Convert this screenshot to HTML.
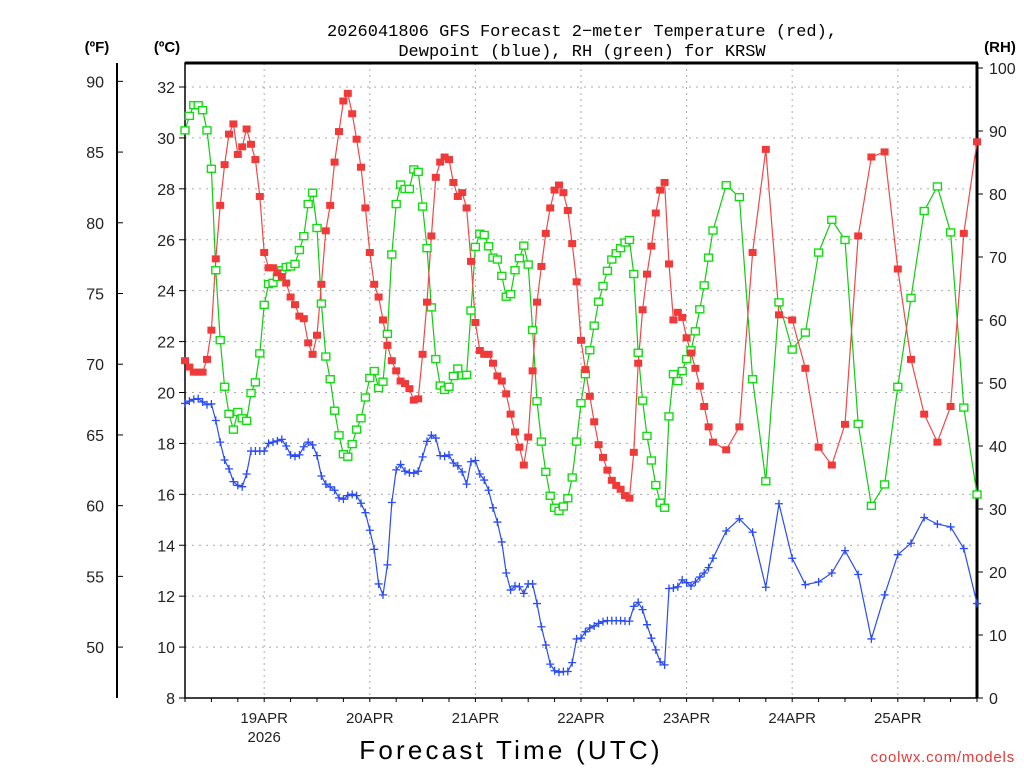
<!DOCTYPE html>
<html><head><meta charset="utf-8"><title>GFS Forecast KRSW</title>
<style>html,body{margin:0;padding:0;background:#fff}svg{display:block;font-family:"Liberation Sans",sans-serif}</style></head>
<body>
<svg id="chart" width="1024" height="768" viewBox="0 0 1024 768" xmlns="http://www.w3.org/2000/svg">
<g id="grid"></g>
<g id="axes"></g>
<g id="series"></g>
<text x="582" y="36" font-size="17" font-family="Liberation Mono, monospace" text-anchor="middle">2026041806 GFS Forecast 2−meter Temperature (red),</text>
<text x="582" y="56" font-size="17" font-family="Liberation Mono, monospace" text-anchor="middle">Dewpoint (blue), RH (green) for KRSW</text>
<text x="97" y="52" font-size="15" font-weight="bold" text-anchor="middle">(ºF)</text>
<text x="167" y="52" font-size="15" font-weight="bold" text-anchor="middle">(ºC)</text>
<text x="1000" y="52" font-size="15" font-weight="bold" text-anchor="middle">(RH)</text>
<text x="511" y="759" font-size="26" text-anchor="middle" letter-spacing="3.2">Forecast Time (UTC)</text>
<text x="1015" y="762" font-size="15" fill="#e83838" text-anchor="end" letter-spacing="0.8">coolwx.com/models</text>
</svg>
<script>
const hours = [0,1,2,3,4,5,6,7,8,9,10,11,12,13,14,15,16,17,18,19,20,21,22,23,24,25,26,27,28,29,30,31,32,33,34,35,36,37,38,39,40,41,42,43,44,45,46,47,48,49,50,51,52,53,54,55,56,57,58,59,60,61,62,63,64,65,66,67,68,69,70,71,72,73,74,75,76,77,78,79,80,81,82,83,84,85,86,87,88,89,90,91,92,93,94,95,96,97,98,99,100,101,102,103,104,105,106,107,108,109,110,111,112,113,114,115,116,117,118,119,120,123,126,129,132,135,138,141,144,147,150,153,156,159,162,165,168,171,174,177,180];
const tempC = [21.25,21.0,20.8,20.8,20.8,21.3,22.45,25.25,27.35,28.95,30.15,30.55,29.35,29.65,30.35,29.75,29.15,27.7,25.5,24.9,24.9,24.7,24.55,24.3,23.75,23.45,23.0,22.9,21.95,21.5,22.25,24.25,26.35,27.35,29.05,30.25,31.45,31.75,30.95,29.95,28.85,27.25,25.5,24.25,23.75,22.85,21.85,21.25,20.85,20.45,20.35,20.15,19.7,19.75,21.5,23.55,26.15,28.45,29.05,29.25,29.15,28.25,27.7,27.85,27.25,25.15,22.75,21.65,21.5,21.5,21.15,20.65,20.45,19.95,19.15,18.45,17.85,17.15,18.25,20.85,23.55,24.95,26.25,27.25,27.95,28.15,27.85,27.15,25.85,24.35,22.05,20.9,19.85,18.85,17.95,17.45,16.95,16.55,16.35,16.2,15.95,15.85,17.65,21.15,23.25,24.65,25.75,27.05,27.95,28.25,25.05,22.85,23.15,22.95,22.15,21.55,20.95,20.25,19.45,18.65,18.05,17.75,18.65,25.5,29.55,23.05,22.85,20.95,17.85,17.15,18.75,26.15,29.25,29.45,24.85,21.3,19.15,18.05,19.45,26.25,29.85];
const dewC = [19.57,19.66,19.73,19.76,19.63,19.52,19.55,18.9,18.05,17.35,17.0,16.5,16.35,16.3,16.8,17.7,17.7,17.7,17.7,18.0,18.05,18.1,18.16,17.9,17.55,17.49,17.55,17.87,18.05,17.94,17.52,16.72,16.4,16.29,16.16,15.86,15.81,15.95,16.0,15.95,15.65,15.28,14.59,13.84,12.48,12.05,13.23,15.68,16.96,17.17,16.91,16.85,16.83,16.91,17.47,18.08,18.32,18.21,17.52,17.49,17.55,17.23,17.12,16.88,16.4,17.28,17.33,16.8,16.56,16.16,15.47,14.91,14.13,12.91,12.24,12.4,12.37,12.11,12.48,12.48,11.71,10.8,10.08,9.33,9.07,9.01,9.04,9.04,9.39,10.32,10.35,10.6,10.75,10.83,10.93,11.0,11.04,11.04,11.04,11.04,11.02,11.02,11.6,11.76,11.47,10.88,10.35,9.89,9.42,9.3,12.3,12.32,12.37,12.64,12.53,12.4,12.56,12.75,12.91,13.12,13.49,14.56,15.04,14.51,12.35,15.63,13.49,12.45,12.56,12.91,13.79,12.85,10.32,12.05,13.63,14.08,15.09,14.83,14.72,13.87,11.71];
const rhPct = [90.1,92.4,94.1,94.1,93.3,90.1,84.0,67.9,56.8,49.4,45.1,42.6,45.4,44.4,44.0,48.4,50.1,54.7,62.4,65.7,65.9,66.8,67.9,68.4,68.5,68.9,71.1,73.3,78.4,80.2,74.6,62.6,54.2,50.6,45.6,41.7,38.7,38.3,40.3,42.6,44.4,47.7,50.8,51.9,49.2,50.2,57.8,70.4,78.4,81.5,80.8,80.8,83.9,83.5,78.0,71.4,62.0,53.8,49.6,48.9,49.4,51.1,52.3,51.2,51.3,61.5,71.6,73.7,73.5,71.7,69.9,69.6,67.0,63.7,64.1,67.9,69.8,71.8,68.8,58.4,47.1,40.7,35.9,32.1,30.2,29.7,30.4,31.7,35.0,40.7,46.8,51.4,55.2,59.1,62.9,65.4,67.8,69.6,70.6,71.4,72.3,72.7,67.3,54.8,47.2,41.6,37.7,33.8,31.0,30.2,44.7,51.4,50.3,51.9,53.8,55.2,58.2,61.7,65.5,69.9,74.2,81.4,79.5,50.6,34.4,62.8,55.3,58.0,70.7,75.9,72.7,43.5,30.5,33.9,49.4,63.5,77.3,81.2,73.9,46.1,32.3];
const celsiusTicks = [8,10,12,14,16,18,20,22,24,26,28,30,32];
const fahrenheitTicks = [50,55,60,65,70,75,80,85,90];
const rhTicks = [0,10,20,30,40,50,60,70,80,90,100];
const dayLabels = ["19APR","20APR","21APR","22APR","23APR","24APR","25APR"];
const dayHours = [18,42,66,90,114,138,162];

const NS = "http://www.w3.org/2000/svg";
const L = 185, R = 977, T = 63, B = 698;
const X = h => L + h * (R - L) / 180;
const YC = c => B - (c - 8) * (B - 87) / 24;
const YF = f => YC((f - 32) / 1.8);
const YR = r => B - r * (B - 68) / 100;
function mk(tag, attrs, parent, txt) {
  const e = document.createElementNS(NS, tag);
  for (const k in attrs) e.setAttribute(k, attrs[k]);
  if (txt !== undefined) e.textContent = txt;
  parent.appendChild(e); return e;
}
const grid = document.getElementById('grid'), axes = document.getElementById('axes'), series = document.getElementById('series');

celsiusTicks.forEach(c => {
  const g = mk('line', {x1: L, x2: R, y1: YC(c), y2: YC(c), stroke: '#aaa', 'stroke-width': 1, 'stroke-dasharray': '2,5'}, grid);
  
  
  const t = mk('line', {x1: L - 6, x2: L, y1: YC(c), y2: YC(c), stroke: '#000'}, axes);
  
  
  const lb = mk('text', {x: 175, y: YC(c) + 6, 'font-size': 16, 'text-anchor': 'end', fill: '#222'}, axes, c);
  
  
});
dayHours.forEach((h, i) => {
  const g = mk('line', {x1: X(h), x2: X(h), y1: T, y2: B, stroke: '#aaa', 'stroke-width': 1, 'stroke-dasharray': '2,4'}, grid);
  
  
  const lb = mk('text', {x: X(h), y: 723, 'font-size': 15, 'text-anchor': 'middle', fill: '#222'}, axes, dayLabels[i]);
  
  
});
for (let h = 0; h <= 180; h += 6) {
  const t = mk('line', {x1: X(h), x2: X(h), y1: B, y2: B + 4, stroke: '#000'}, axes);
  
  
}
const yr = mk('text', {x: X(18), y: 742, 'font-size': 15, 'text-anchor': 'middle', fill: '#222'}, axes, '2026');



fahrenheitTicks.forEach(f => {
  const t = mk('line', {x1: 117, x2: 123, y1: YF(f), y2: YF(f), stroke: '#000'}, axes);
  
  
  const lb = mk('text', {x: 104, y: YF(f) + 6, 'font-size': 16, 'text-anchor': 'end', fill: '#222'}, axes, f);
  
  
});
rhTicks.forEach(r => {
  const t = mk('line', {x1: R, x2: R + 6, y1: YR(r), y2: YR(r), stroke: '#000'}, axes);
  
  
  const lb = mk('text', {x: 989, y: YR(r) + 6, 'font-size': 16, 'text-anchor': 'start', fill: '#222'}, axes, r);
  
  
});
const fax = mk('line', {x1: 117, x2: 117, y1: T, y2: B, stroke: '#000', 'stroke-width': 2}, axes);


const frame = mk('path', {d: `M${L},${T}H${R}V${B}H${L}Z`, fill: 'none', stroke: '#000', 'stroke-width': 1.5}, axes);


const topb = mk('line', {x1: L, x2: R + 1, y1: T, y2: T, stroke: '#000', 'stroke-width': 3}, axes);


const rax = mk('line', {x1: R, x2: R, y1: T, y2: B, stroke: '#000', 'stroke-width': 3}, axes);



function line(vals, yf, color, name) {
  const d = vals.map((v, i) => (i ? 'L' : 'M') + X(hours[i]).toFixed(1) + ',' + yf(v).toFixed(1)).join('');
  const p = mk('path', {d: d, fill: 'none', stroke: color, 'stroke-width': 1.2}, series);
  
  
}
line(rhPct, YR, '#11cc11', 'rh-line');
line(tempC, YC, '#f04848', 'temperature-line');
line(dewC, YC, '#2a4cf5', 'dewpoint-line');
rhPct.forEach((v, i) => {
  const m = mk('rect', {x: X(hours[i]) - 4, y: YR(v) - 3.5, width: 8, height: 7, fill: '#fff', stroke: '#11dd11', 'stroke-width': 1.4}, series);
  
  
});
tempC.forEach((v, i) => {
  const m = mk('rect', {x: X(hours[i]) - 4, y: YC(v) - 3.5, width: 8, height: 7, fill: '#f03a3a'}, series);
  
  
});
dewC.forEach((v, i) => {
  const x = X(hours[i]), y = YC(v);
  const m = mk('path', {d: `M${x - 4},${y}H${x + 4}M${x},${y - 4}V${y + 4}`, stroke: '#2a4cf5', 'stroke-width': 1.3}, series);
  
  
});
</script>
</body></html>
